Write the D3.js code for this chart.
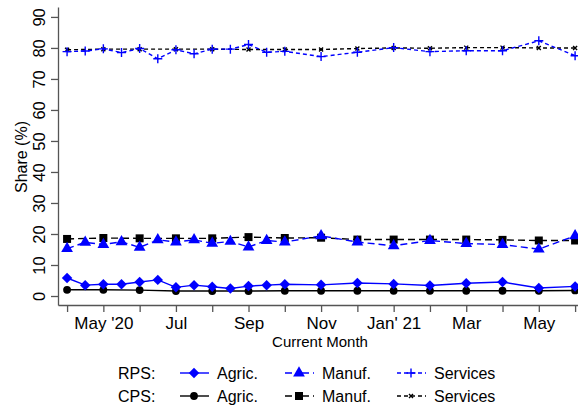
<!DOCTYPE html>
<html>
<head>
<meta charset="utf-8">
<script src="https://cdn.jsdelivr.net/npm/d3@7"></script>
<style>
  body { margin: 0; background: #fff; }
  svg { font-family: "Liberation Sans", Arial, Helvetica, sans-serif; }
</style>
</head>
<body>
<svg id="chart" width="578" height="410"></svg>
<script>
"use strict";

// months since April 2020 (RPS is twice a month until October)
var rpsMonths = [0, 0.5, 1, 1.5, 2, 2.5, 3, 3.5, 4, 4.5, 5, 5.5, 6, 7, 8, 9, 10, 11, 12, 13, 14];
var cpsMonths = [0, 1, 2, 3, 4, 5, 6, 7, 8, 9, 10, 11, 12, 13, 14];

var monthLabels = ["", "May '20", "", "Jul", "", "Sep", "", "Nov", "", "Jan' 21", "", "Mar", "", "May", ""];
var yTicks = [0, 10, 20, 30, 40, 50, 60, 70, 80, 90];

var rpsAgric = [5.8, 3.5, 3.8, 3.8, 4.5, 5.2, 2.8, 3.5, 3.0, 2.4, 3.2, 3.5, 3.8, 3.6, 4.2, 3.9, 3.4, 4.1, 4.5, 2.6, 3.1];
var rpsManuf = [15.3, 17.3, 16.6, 17.5, 15.7, 18.1, 17.4, 18.1, 17.0, 17.6, 15.8, 17.9, 17.4, 19.4, 17.4, 16.2, 17.9, 16.9, 16.6, 15.1, 19.4];
var rpsServ  = [78.8, 79.0, 79.7, 78.5, 79.8, 76.5, 79.4, 78.1, 79.6, 79.6, 81.1, 78.6, 78.9, 77.2, 78.6, 80.1, 78.8, 79.1, 79.1, 82.3, 77.5];

var cpsAgric = [2.0, 2.0, 1.9, 1.6, 1.6, 1.6, 1.7, 1.7, 1.7, 1.7, 1.7, 1.7, 1.7, 1.7, 1.8];
var cpsManuf = [18.4, 18.7, 18.6, 18.6, 18.6, 19.0, 18.7, 18.8, 18.2, 18.2, 18.2, 18.2, 18.1, 17.9, 17.9];
var cpsServ  = [79.4, 79.6, 79.6, 79.6, 79.6, 79.5, 79.5, 79.5, 79.8, 80.0, 79.9, 80.1, 80.1, 80.0, 80.0];

var blue = "#0000ff", black = "#000000";

var series = [
    {src: "RPS", name: "Agric.",   xs: rpsMonths, ys: rpsAgric, color: blue,  dash: null,       marker: "diamond"},
    {src: "RPS", name: "Manuf.",   xs: rpsMonths, ys: rpsManuf, color: blue,  dash: "7,4",      marker: "triangle"},
    {src: "RPS", name: "Services", xs: rpsMonths, ys: rpsServ,  color: blue,  dash: "4,3",      marker: "plus"},
    {src: "CPS", name: "Agric.",   xs: cpsMonths, ys: cpsAgric, color: black, dash: null,       marker: "circle"},
    {src: "CPS", name: "Manuf.",   xs: cpsMonths, ys: cpsManuf, color: black, dash: "7,4",      marker: "square"},
    {src: "CPS", name: "Services", xs: cpsMonths, ys: cpsServ,  color: black, dash: "4,3",      marker: "cross"}
];

var svg = d3.select("#chart");

var x = d3.scaleLinear().domain([-0.25, 14.08]).range([58, 578]);
var y = d3.scaleLinear().domain([-2.9, 93.2]).range([305, 7]);

var symbols = {
    diamond:  d3.symbol().type(d3.symbolDiamond2).size(70),
    triangle: d3.symbol().type(d3.symbolTriangle).size(60),
    plus:     d3.symbol().type(d3.symbolPlus).size(55),
    circle:   d3.symbol().type(d3.symbolCircle).size(48),
    square:   d3.symbol().type(d3.symbolSquare).size(64),
    cross:    d3.symbol().type(d3.symbolX).size(12)
};

function drawMarker(g, s, cx, cy) {
    var p = g.append("path")
        .attr("d", symbols[s.marker]())
        .attr("transform", "translate(" + cx + "," + cy + ")");
    if (s.marker === "plus" || s.marker === "cross") {
        p.attr("fill", "none").attr("stroke", s.color).attr("stroke-width", 1.4);
        if (s.marker === "plus") p.attr("d", "M-4.5,0H4.5M0,-4.5V4.5");
        else p.attr("d", "M-2,-2L2,2M-2,2L2,-2");
    } else {
        p.attr("fill", s.color);
    }
}

// axes
var yAxis = svg.append("g")
    .attr("transform", "translate(58,0)")
    .call(d3.axisLeft(y).tickValues(yTicks).tickSize(7).tickSizeOuter(0));
yAxis.selectAll("text")
    .attr("transform", "rotate(-90)")
    .attr("x", 0).attr("y", -13).attr("dy", 0)
    .style("text-anchor", "middle")
    .style("font-size", "16.5px")
    .style("fill", "#000");

var xAxis = svg.append("g")
    .attr("transform", "translate(0,305)")
    .call(d3.axisBottom(x).tickValues(d3.range(15)).tickSize(7).tickSizeOuter(0)
        .tickFormat(function (d) { return monthLabels[d]; }));
xAxis.selectAll("text")
    .attr("y", 12).attr("dy", "0.71em")
    .style("font-size", "17px")
    .style("fill", "#000");

svg.selectAll(".domain, .tick line").attr("stroke", "#555").attr("stroke-width", 1.3);

svg.append("text")
    .attr("transform", "translate(27,157) rotate(-90)")
    .style("text-anchor", "middle")
    .style("font-size", "16px")
    .text("Share (%)");

svg.append("text")
    .attr("x", 320).attr("y", 347)
    .style("text-anchor", "middle")
    .style("font-size", "15px")
    .text("Current Month");

// lines and markers, CPS underneath
var line = d3.line().x(function (d) { return x(d[0]); }).y(function (d) { return y(d[1]); });
var order = [3, 4, 5, 0, 1, 2];
order.forEach(function (i) {
    var s = series[i];
    var pts = d3.zip(s.xs, s.ys);
    var g = svg.append("g");
    g.append("path")
        .datum(pts)
        .attr("d", line)
        .attr("fill", "none")
        .attr("stroke", s.color)
        .attr("stroke-width", 1.4)
        .attr("stroke-dasharray", s.dash);
    pts.forEach(function (p) { drawMarker(g, s, x(p[0]), y(p[1])); });
});

// legend
var legRows = {RPS: 373, CPS: 396};
var legCols = {"Agric.": 180, "Manuf.": 285, "Services": 397};
var legDash = {"Agric.": null, "Manuf.": "7,4,2,4", "Services": "4,3"};

svg.selectAll(".legsrc")
    .data(["RPS", "CPS"])
    .enter().append("text")
    .attr("x", 118).attr("y", function (d) { return legRows[d] + 6; })
    .style("font-size", "16px")
    .text(function (d) { return d + ":"; });

series.forEach(function (s) {
    var lx = legCols[s.name], ly = legRows[s.src];
    var g = svg.append("g");
    g.append("line")
        .attr("x1", lx).attr("x2", lx + 29)
        .attr("y1", ly).attr("y2", ly)
        .attr("stroke", s.color)
        .attr("stroke-width", 1.4)
        .attr("stroke-dasharray", legDash[s.name]);
    drawMarker(g, s, lx + 14, ly);
    g.append("text")
        .attr("x", lx + 37).attr("y", ly + 6)
        .style("font-size", "16px")
        .text(s.name);
});
</script>
</body>
</html>
